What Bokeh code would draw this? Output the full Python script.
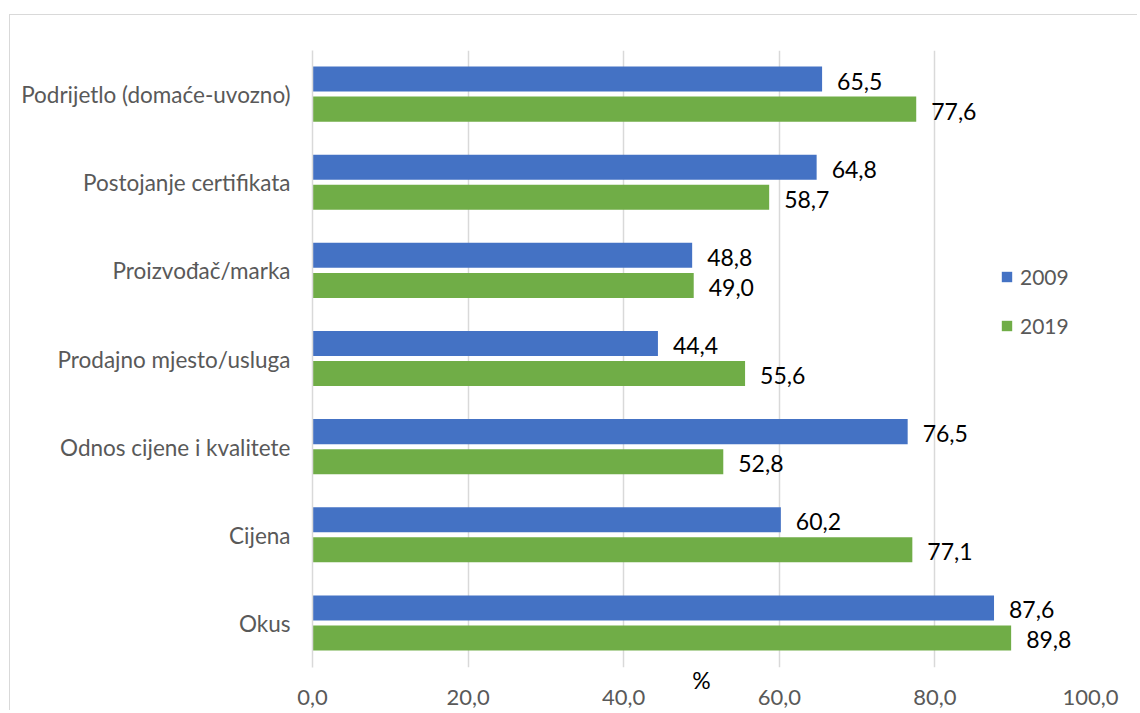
from bokeh.plotting import figure
from bokeh.models import (ColumnDataSource, FactorRange, FixedTicker, CustomJSTickFormatter,
                          Legend, LegendItem, LabelSet)
from bokeh.transform import dodge
from bokeh.core.properties import value
from bokeh.embed import file_html
from bokeh.resources import INLINE

categories = ["Okus", "Cijena", "Odnos cijene i kvalitete", "Prodajno mjesto/usluga",
              "Proizvođač/marka", "Postojanje certifikata", "Podrijetlo (domaće-uvozno)"]
values_2009 = [87.6, 60.2, 76.5, 44.4, 48.8, 64.8, 65.5]
values_2019 = [89.8, 77.1, 52.8, 55.6, 49.0, 58.7, 77.6]
series_names = ["2009", "2019"]
x_ticks = [0, 20, 40, 60, 80, 100]

FONT = "Lato"
GREY = "#595959"
BLUE = "#4472C4"
GREEN = "#70AD47"

src = ColumnDataSource(dict(
    cat=categories,
    v09=values_2009,
    v19=values_2019,
    l09=[f"{v:.1f}".replace(".", ",") for v in values_2009],
    l19=[f"{v:.1f}".replace(".", ",") for v in values_2019],
))

p = figure(width=1128, height=696, y_range=FactorRange(factors=categories),
           x_range=(0, 100), output_backend="svg", toolbar_location=None,
           min_border_left=302, min_border_top=35, min_border_right=48, min_border_bottom=44)
p.styles = {"margin-left": "9px", "margin-top": "14px",
            "border-left": "1px solid #d9d9d9", "border-top": "1px solid #d9d9d9"}
p.outline_line_color = None
p.background_fill_color = "white"
p.border_fill_color = "white"

r09 = p.hbar(y=dodge("cat", 0.176, range=p.y_range), right="v09", left=0, height=0.284,
             fill_color=BLUE, line_color=None, source=src)
r19 = p.hbar(y=dodge("cat", -0.165, range=p.y_range), right="v19", left=0, height=0.284,
             fill_color=GREEN, line_color=None, source=src)

for col, lab, off in (("v09", "l09", 0.176), ("v19", "l19", -0.165)):
    ls = LabelSet(x=col, y=dodge("cat", off, range=p.y_range), text=lab, source=src,
                  x_offset=15, y_offset=-2, text_baseline="middle", text_align="left",
                  text_font=value(FONT), text_font_size="23px", text_color="#000000")
    p.add_layout(ls)

# axes
p.xaxis.ticker = FixedTicker(ticks=x_ticks)
p.xaxis.formatter = CustomJSTickFormatter(code="return tick.toFixed(1).replace('.', ',');")
p.xaxis.axis_line_color = None
p.xaxis.major_tick_line_color = None
p.xaxis.minor_tick_line_color = None
p.xaxis.major_tick_out = 0
p.xaxis.major_label_standoff = 22
p.xaxis.major_label_text_font = FONT
p.xaxis.major_label_text_font_size = "22px"
p.xaxis.major_label_text_color = GREY
p.xaxis.axis_label = "%"
p.xaxis.axis_label_standoff = -42
p.xaxis.axis_label_text_font = FONT
p.xaxis.axis_label_text_font_size = "23px"
p.xaxis.axis_label_text_font_style = "normal"
p.xaxis.axis_label_text_color = "#000000"

p.yaxis.axis_line_color = "#d9d9d9"
p.yaxis.axis_line_width = 1.5
p.yaxis.major_tick_line_color = None
p.yaxis.minor_tick_line_color = None
p.yaxis.major_tick_out = 0
p.yaxis.major_label_standoff = 22
p.yaxis.major_label_text_font = FONT
p.yaxis.major_label_text_font_size = "22.5px"
p.yaxis.major_label_text_color = GREY

p.xgrid.grid_line_color = "#d9d9d9"
p.xgrid.grid_line_width = 1.5
p.ygrid.grid_line_color = None

legend = Legend(items=[LegendItem(label=series_names[0], renderers=[r09]),
                       LegendItem(label=series_names[1], renderers=[r19])],
                location=(688, 329), orientation="vertical",
                glyph_width=13, glyph_height=13, label_standoff=7, spacing=24,
                padding=0, margin=0, border_line_color=None, background_fill_alpha=0,
                label_text_font=FONT, label_text_font_size="21px", label_text_color=GREY)
p.add_layout(legend)

open("out.html", "w").write(file_html(p, INLINE))
